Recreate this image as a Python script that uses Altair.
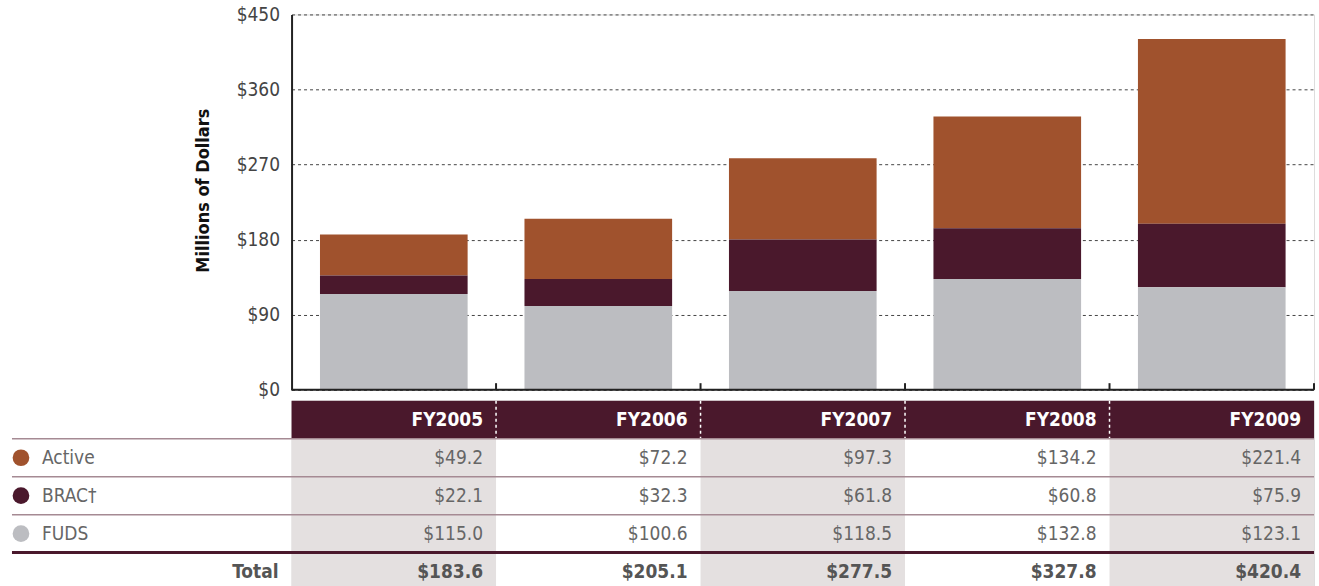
import altair as alt
import pandas as pd

# ---- data ----
years = ["FY2005", "FY2006", "FY2007", "FY2008", "FY2009"]
active = [49.2, 72.2, 97.3, 134.2, 221.4]
brac = [22.1, 32.3, 61.8, 60.8, 75.9]
fuds = [115.0, 100.6, 118.5, 132.8, 123.1]
totals = [183.6, 205.1, 277.5, 327.8, 420.4]
series = ["Active", "BRAC", "FUDS"]
series_labels = ["Active", "BRAC†", "FUDS"]
y_ticks = [0, 90, 180, 270, 360, 450]

FONT = "Liberation Sans Narrow, DejaVu Sans Condensed, sans-serif"
C_ACTIVE = "#a0522d"
C_BRAC = "#4a182c"
C_FUDS = "#bcbdc1"
C_SHADE = "#e4e0e0"
C_LINE = "#a58a93"
C_TEXT = "#666666"

PLOT_W = 1024
COL_W = PLOT_W / 5.0

# ---- stacked bar chart ----
rows = []
stack_order = {"FUDS": 0, "BRAC": 1, "Active": 2}
for i, y in enumerate(years):
    for s, vals in zip(series, [active, brac, fuds]):
        rows.append({"year": y, "series": s, "value": vals[i], "ord": stack_order[s]})
bars_df = pd.DataFrame(rows)

color_scale = alt.Scale(domain=series, range=[C_ACTIVE, C_BRAC, C_FUDS])

bars = alt.Chart(bars_df).mark_bar().encode(
    x=alt.X("year:N", sort=years,
            scale=alt.Scale(paddingInner=0.278, paddingOuter=0.139),
            axis=None),
    y=alt.Y("value:Q", stack="zero",
            scale=alt.Scale(domain=[0, 450], nice=False),
            axis=alt.Axis(values=y_ticks, labelExpr="'$' + datum.value",
                          grid=True, gridDash=[3, 3], gridColor="#444444", gridWidth=1,
                          domainColor="#222222", domainWidth=2, ticks=False,
                          labelFont=FONT, labelFontSize=19, labelColor="#444444",
                          labelPadding=12, title="Millions of Dollars",
                          titleFont=FONT, titleFontSize=18, titleFontWeight="bold",
                          titleColor="#111111", titlePadding=24, titleY=176)),
    color=alt.Color("series:N", scale=color_scale, legend=None),
    order=alt.Order("ord:Q"),
)

xq = alt.Scale(domain=[0, 5], nice=False)
tick_df = pd.DataFrame({"t": [1, 2, 3, 4, 5]})
ticks = alt.Chart(tick_df).mark_rule(color="#222222", strokeWidth=2).encode(
    x=alt.X("t:Q", scale=xq, axis=None),
    y=alt.datum(0),
    y2=alt.datum(8),
)
base_df = pd.DataFrame({"x0": [0], "x1": [5]})
baseline = alt.Chart(base_df).mark_rule(color="#222222", strokeWidth=2).encode(
    x=alt.X("x0:Q", scale=xq, axis=None), x2="x1", y=alt.datum(0))

top = alt.layer(bars, ticks, baseline).resolve_scale(x="independent").properties(
    width=PLOT_W, height=376)

# ---- data table ----
xs = alt.Scale(domain=[0, 5], nice=False)
ys = alt.Scale(domain=[0, 5], nice=False, reverse=True)
X = lambda f: alt.X(f, type="quantitative", scale=xs, axis=None)
Y = lambda f: alt.Y(f, type="quantitative", scale=ys, axis=None)

label_left = -280 / COL_W
circle_x = -271 / COL_W
text_x = -250 / COL_W
total_x = -13 / COL_W
pad_r = 13 / COL_W

shade_df = pd.DataFrame({"x0": [0, 2, 4]})
shade_df["x1"] = shade_df["x0"] + 1
shade_df["y0"] = 1
shade_df["y1"] = 5
shade = alt.Chart(shade_df).mark_rect(color=C_SHADE).encode(
    x=X("x0"), x2="x1", y=Y("y0"), y2="y1")

header_df = pd.DataFrame({"x0": [0], "x1": [5], "y0": [0], "y1": [1]})
header = alt.Chart(header_df).mark_rect(color=C_BRAC).encode(
    x=X("x0"), x2="x1", y=Y("y0"), y2="y1")

sep_df = pd.DataFrame({"x": [1, 2, 3, 4], "y0": 0, "y1": 1})
seps = alt.Chart(sep_df).mark_rule(color="white", strokeDash=[3, 3], strokeWidth=1.5).encode(
    x=X("x"), y=Y("y0"), y2="y1")

line_df = pd.DataFrame({"y": [1, 2, 3], "x0": label_left, "x1": 5})
lines = alt.Chart(line_df).mark_rule(color=C_LINE, strokeWidth=1.5).encode(
    y=Y("y"), x=X("x0"), x2="x1")

tline_df = pd.DataFrame({"y": [4], "x0": [label_left], "x1": [5]})
tline = alt.Chart(tline_df).mark_rule(color=C_BRAC, strokeWidth=3).encode(
    y=Y("y"), x=X("x0"), x2="x1")

hdr_text_df = pd.DataFrame({"label": years, "x": [i + 1 - pad_r for i in range(5)], "y": 0.5})
hdr_text = alt.Chart(hdr_text_df).mark_text(
    align="right", baseline="middle", font=FONT, fontSize=19, fontWeight="bold",
    color="white").encode(x=X("x"), y=Y("y"), text="label:N")

val_rows = []
for r, vals in enumerate([active, brac, fuds]):
    for i, v in enumerate(vals):
        val_rows.append({"x": i + 1 - pad_r, "y": r + 1.5, "label": f"${v:.1f}"})
val_text = alt.Chart(pd.DataFrame(val_rows)).mark_text(
    align="right", baseline="middle", font=FONT, fontSize=19, color=C_TEXT).encode(
    x=X("x"), y=Y("y"), text="label:N")

tot_df = pd.DataFrame({"x": [i + 1 - pad_r for i in range(5)], "y": 4.5,
                       "label": [f"${v:.1f}" for v in totals]})
tot_text = alt.Chart(tot_df).mark_text(
    align="right", baseline="middle", font=FONT, fontSize=19, fontWeight="bold",
    color="#555555").encode(x=X("x"), y=Y("y"), text="label:N")

tot_lbl = alt.Chart(pd.DataFrame({"x": [total_x], "y": [4.5], "label": ["Total"]})).mark_text(
    align="right", baseline="middle", font=FONT, fontSize=19, fontWeight="bold",
    color="#555555").encode(x=X("x"), y=Y("y"), text="label:N")

leg_df = pd.DataFrame({"series": series, "label": series_labels,
                       "y": [1.5, 2.5, 3.5], "cx": circle_x, "tx": text_x})
leg_dots = alt.Chart(leg_df).mark_circle(size=280, opacity=1).encode(
    x=X("cx"), y=Y("y"),
    color=alt.Color("series:N", scale=color_scale, legend=None))
leg_text = alt.Chart(leg_df).mark_text(
    align="left", baseline="middle", font=FONT, fontSize=19, color=C_TEXT).encode(
    x=X("tx"), y=Y("y"), text="label:N")

table = alt.layer(shade, header, seps, lines, tline, hdr_text, val_text, tot_text,
                  tot_lbl, leg_dots, leg_text).properties(width=PLOT_W, height=190)

chart = alt.vconcat(top, table, spacing=-3).properties(
    padding={"left": 10, "top": 4, "right": 3, "bottom": 0}
).configure_view(stroke=None).configure(background="white")

chart.save("out.html", embed_options={"renderer": "svg", "actions": False})
